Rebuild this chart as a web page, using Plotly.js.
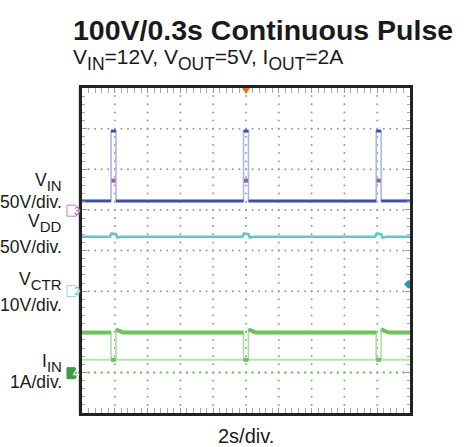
<!DOCTYPE html>
<html><head><meta charset="utf-8">
<script src="https://cdn.plot.ly/plotly-3.0.1.min.js"></script>
<style>html,body{margin:0;padding:0;background:#fff}</style>
</head><body><div id="chart" style="width:471px;height:447px"></div>
<script>
// ---- data (time in seconds, 2 s/div, trigger at t = 0) ----
const vinTime  = [-10, -8.23, -8.23, -7.93, -7.93, -0.15, -0.15, 0.15, 0.15, 7.94, 7.94, 8.24, 8.24, 10];
const vinVolts = [12, 12, 98, 98, 12, 12, 98, 98, 12, 12, 98, 98, 12, 12];
const vinMidTime  = [-8.08, 0, 8.09];
const vinMidVolts = [37, 37, 37];

const vddTime  = [-10, -8.3, -8.2, -7.93, -7.85, -7.6, -0.22, -0.12, 0.15, 0.23, 0.5, 7.87, 7.97, 8.24, 8.32, 8.6, 10];
const vddVolts = [12, 12, 16, 15, 11, 12, 12, 16, 15, 11, 12, 12, 16, 15, 11, 12, 12];

const iinTime = [-10, -8.23, -8.23, -7.93, -7.93, -7.75, -7.5, -0.15, -0.15, 0.15, 0.15, 0.33, 0.6, 7.94, 7.94, 8.24, 8.24, 8.42, 8.7, 10];
const iinAmps = [1.0, 1.0, 0.33, 0.33, 1.08, 1.04, 1.0, 1.0, 0.33, 0.33, 1.08, 1.04, 1.0, 1.0, 0.33, 0.33, 1.08, 1.04, 1.0, 1.0];
const iinMinTime = [-10, 10];
const iinMinAmps = [0.33, 0.33];

// channel ground positions (divisions from bottom) and scales (units/div)
const chGround = {ch1: 4.1, ch2: 3.0, ch3: 4.98, ch4: 0.98};
const chScale  = {ch1: 50, ch2: 10, ch3: 50, ch4: 1};
const vctrIndicatorDiv = 3.17;

const SUB = s => '<span style="font-size:15px;baseline-shift:-5px">' + s + '</span>';
const SUBT = s => '<span style="font-size:17.5px;baseline-shift:-6px">' + s + '</span>';

const labels = [
  {text: 'V' + SUB('IN'), py: 168},
  {text: '50V/div.', py: 190},
  {text: 'V' + SUB('DD'), py: 209},
  {text: '50V/div.', py: 235},
  {text: 'V' + SUB('CTR'), py: 267},
  {text: '10V/div.', py: 293},
  {text: 'I' + SUB('IN'), py: 349},
  {text: '1A/div.', py: 370}
];

// ---- layout geometry ----
const PL = 82, PT = 88, PW = 328, PH = 325;
const px2x = px => (px - PL) / PW;
const py2y = py => (PT + PH - py) / PH;
const FONT = 'Liberation Sans, Arial, Helvetica, sans-serif';

function rangeFor(ch){ return [-chGround[ch]*chScale[ch], (8-chGround[ch])*chScale[ch]]; }
function darkSegments(t, v){
  const xs = [], ys = [];
  for (let i = 0; i < t.length; i++){
    xs.push(t[i]); ys.push(v[i]);
    if (i < t.length-1 && t[i] === t[i+1]){ xs.push(null); ys.push(null); }
  }
  return {xs, ys};
}

// grid dots
const gx = [], gy = [], ggx = [], ggy = [];
for (let d = -8; d <= 8; d += 2){
  for (let k = 1; k < 40; k++){ gx.push(d); gy.push(k*0.2); }
}
for (let r = 1; r <= 7; r++){
  for (let k = 1; k < 50; k++){
    const x = -10 + k*0.4;
    if (r === 1){ ggx.push(x); ggy.push(r); } else { gx.push(x); gy.push(r); }
  }
}

const traces = [];
traces.push({x: gx, y: gy, type: 'scatter', mode: 'markers', marker: {size: 2, color: '#9a9a9a'}, hoverinfo: 'skip', xaxis: 'x', yaxis: 'y'});
traces.push({x: ggx, y: ggy, type: 'scatter', mode: 'markers', marker: {size: 2.5, color: '#79c86c'}, hoverinfo: 'skip', xaxis: 'x', yaxis: 'y'});

// VIN (ch3)
traces.push({x: vinTime, y: vinVolts, type: 'scatter', mode: 'lines', line: {color: '#aeb8e4', width: 1.6}, yaxis: 'y2'});
const vd = darkSegments(vinTime, vinVolts);
traces.push({x: vd.xs, y: vd.ys, type: 'scatter', mode: 'lines', line: {color: '#3d4fa6', width: 3}, connectgaps: false, yaxis: 'y2'});
traces.push({x: vinMidTime, y: vinMidVolts, type: 'scatter', mode: 'markers', marker: {symbol: 'square', size: 4, color: '#a45aa6'}, yaxis: 'y2'});

// VDD (ch1)
traces.push({x: vddTime, y: vddVolts, type: 'scatter', mode: 'lines', line: {color: '#62c6d0', width: 2.6}, yaxis: 'y3'});

// IIN (ch4)
traces.push({x: iinMinTime, y: iinMinAmps, type: 'scatter', mode: 'lines', line: {color: '#b9e2b0', width: 2}, yaxis: 'y4'});
traces.push({x: iinTime, y: iinAmps, type: 'scatter', mode: 'lines', line: {color: '#b0dca6', width: 1.6}, yaxis: 'y4'});
const id = darkSegments(iinTime, iinAmps);
traces.push({x: id.xs, y: id.ys, type: 'scatter', mode: 'lines', line: {color: '#6cc25b', width: 4}, connectgaps: false, yaxis: 'y4'});

const hiddenY = ch => ({range: rangeFor(ch), overlaying: 'y', visible: false, fixedrange: true});

const annotations = [];
annotations.push({xref: 'paper', yref: 'paper', x: px2x(71), y: py2y(12), xanchor: 'left', yanchor: 'top', showarrow: false,
  text: '<b>100V/0.3s Continuous Pulse</b>', font: {family: FONT, size: 28.5, color: '#1a1a1a'}});
annotations.push({xref: 'paper', yref: 'paper', x: px2x(71), y: py2y(43), xanchor: 'left', yanchor: 'top', showarrow: false,
  text: 'V' + SUBT('IN') + '=12V, V' + SUBT('OUT') + '=5V, I' + SUBT('OUT') + '=2A', font: {family: FONT, size: 21, color: '#1a1a1a'}});
labels.forEach(l => annotations.push({xref: 'paper', yref: 'paper', x: px2x(63.5), y: py2y(l.py), xanchor: 'right', yanchor: 'top',
  showarrow: false, text: l.text, font: {family: FONT, size: 17.5, color: '#1a1a1a'}}));
annotations.push({xref: 'paper', yref: 'paper', x: px2x(246), y: py2y(423), xanchor: 'center', yanchor: 'top', showarrow: false,
  text: '2s/div.', font: {family: FONT, size: 20, color: '#1a1a1a'}});
// channel numbers
annotations.push({xref: 'paper', yref: 'y2', x: 0, y: 0, xshift: -10.5, showarrow: false, text: '3', font: {family: FONT, size: 11, color: '#b15ab8'}});
annotations.push({xref: 'paper', yref: 'y5', x: 0, y: 0, xshift: -10.5, showarrow: false, text: '2', font: {family: FONT, size: 11, color: '#62c6d0'}});
annotations.push({xref: 'paper', yref: 'y4', x: 0, y: 0, xshift: -11, showarrow: false, text: '<b>4</b>', font: {family: FONT, size: 11, color: '#ffffff'}});

const shapes = [];
shapes.push({type: 'path', xref: 'paper', xsizemode: 'pixel', xanchor: 0, yref: 'y2', ysizemode: 'pixel', yanchor: 0,
  path: 'M-15,-5.5 L-6,-5.5 L-2,0 L-6,5.5 L-15,5.5 Z', fillcolor: '#ffffff', line: {color: '#c07ac6', width: 1}});
shapes.push({type: 'path', xref: 'paper', xsizemode: 'pixel', xanchor: 0, yref: 'y5', ysizemode: 'pixel', yanchor: 0,
  path: 'M-15,-5.5 L-6,-5.5 L-2,0 L-6,5.5 L-15,5.5 Z', fillcolor: '#ffffff', line: {color: '#8fd4db', width: 1}});
shapes.push({type: 'path', xref: 'paper', xsizemode: 'pixel', xanchor: 0, yref: 'y4', ysizemode: 'pixel', yanchor: 0,
  path: 'M-15,-5.5 L-7,-5.5 L-3,0 L-7,5.5 L-15,5.5 Z', fillcolor: '#3e9b47', line: {color: '#3e9b47', width: 1}});
// trigger position marker
shapes.push({type: 'path', xref: 'x', xsizemode: 'pixel', xanchor: 0, yref: 'paper', ysizemode: 'pixel', yanchor: 1,
  path: 'M-4,0 L4,0 L0,-6 Z', fillcolor: '#f07020', line: {width: 0}});
// VCTR indicator at right edge
shapes.push({type: 'path', xref: 'paper', xsizemode: 'pixel', xanchor: 1, yref: 'y', ysizemode: 'pixel', yanchor: vctrIndicatorDiv,
  path: 'M-6,0 L-2,4 L0,4 L0,-4 L-2,-4 Z', fillcolor: '#2a9aa5', line: {width: 0}});
// outer light frame
shapes.push({type: 'rect', xref: 'paper', yref: 'paper', x0: px2x(79), x1: px2x(412.5), y0: py2y(415), y1: py2y(85.5),
  line: {color: '#b8b8b8', width: 1}, fillcolor: 'rgba(0,0,0,0)', layer: 'below'});

const axisCommon = {showgrid: false, zeroline: false, showticklabels: false, showline: true, linecolor: '#222', linewidth: 3,
  mirror: 'allticks', ticks: 'inside', ticklen: 5, tickcolor: '#9a9a9a', tickwidth: 1, fixedrange: true};

const layout = {
  width: 471, height: 447,
  margin: {l: PL, r: 471 - PL - PW, t: PT, b: 447 - PT - PH, pad: 0},
  paper_bgcolor: '#ffffff', plot_bgcolor: '#ffffff',
  showlegend: false,
  xaxis: Object.assign({}, axisCommon, {range: [-10, 10], tick0: -10, dtick: 2,
    minor: {ticks: 'inside', dtick: 0.4, ticklen: 3, tickcolor: '#a8a8a8', showgrid: false}}),
  yaxis: Object.assign({}, axisCommon, {range: [0, 8], tick0: 0, dtick: 1,
    minor: {ticks: 'inside', dtick: 0.2, ticklen: 3, tickcolor: '#a8a8a8', showgrid: false}}),
  yaxis2: hiddenY('ch3'),
  yaxis3: hiddenY('ch1'),
  yaxis4: hiddenY('ch4'),
  yaxis5: hiddenY('ch2'),
  annotations, shapes
};

Plotly.newPlot('chart', traces, layout, {staticPlot: true, displayModeBar: false});
</script></body></html>
